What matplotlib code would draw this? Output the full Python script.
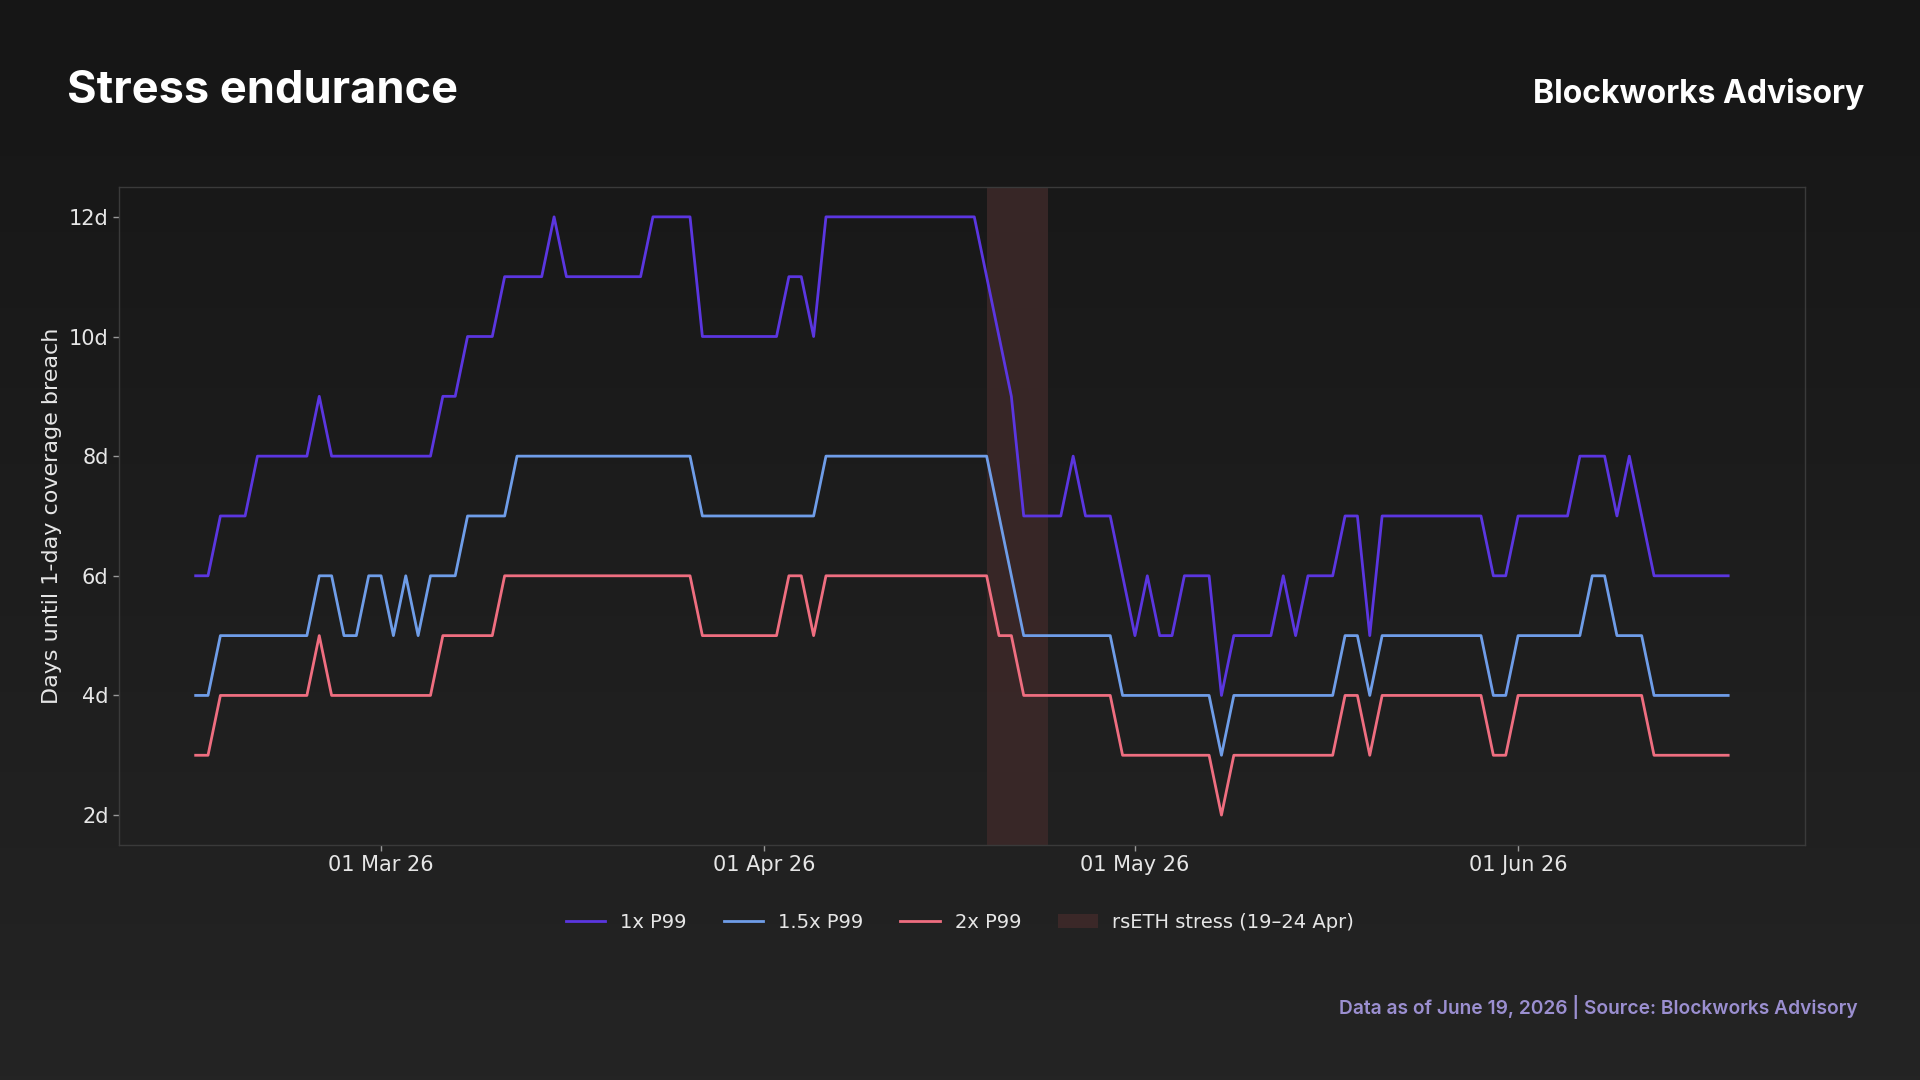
import matplotlib.pyplot as plt
import matplotlib.dates as mdates
import matplotlib.ticker as mticker
import numpy as np
import pandas as pd
from matplotlib.patches import Patch

# daily series, 14 Feb 2026 -> 18 Jun 2026
start_date = "2026-02-14"
p99_1x = [6, 6, 7, 7, 7, 8, 8, 8, 8, 8,
          9, 8, 8, 8, 8, 8, 8, 8, 8, 8,
          9, 9, 10, 10, 10, 11, 11, 11, 11, 12,
          11, 11, 11, 11, 11, 11, 11, 12, 12, 12,
          12, 10, 10, 10, 10, 10, 10, 10, 11, 11,
          10, 12, 12, 12, 12, 12, 12, 12, 12, 12,
          12, 12, 12, 12, 11, 10, 9, 7, 7, 7,
          7, 8, 7, 7, 7, 6, 5, 6, 5, 5,
          6, 6, 6, 4, 5, 5, 5, 5, 6, 5,
          6, 6, 6, 7, 7, 5, 7, 7, 7, 7,
          7, 7, 7, 7, 7, 6, 6, 7, 7, 7,
          7, 7, 8, 8, 8, 7, 8, 7, 6, 6,
          6, 6, 6, 6, 6]
p99_15x = [4, 4, 5, 5, 5, 5, 5, 5, 5, 5,
           6, 6, 5, 5, 6, 6, 5, 6, 5, 6,
           6, 6, 7, 7, 7, 7, 8, 8, 8, 8,
           8, 8, 8, 8, 8, 8, 8, 8, 8, 8,
           8, 7, 7, 7, 7, 7, 7, 7, 7, 7,
           7, 8, 8, 8, 8, 8, 8, 8, 8, 8,
           8, 8, 8, 8, 8, 7, 6, 5, 5, 5,
           5, 5, 5, 5, 5, 4, 4, 4, 4, 4,
           4, 4, 4, 3, 4, 4, 4, 4, 4, 4,
           4, 4, 4, 5, 5, 4, 5, 5, 5, 5,
           5, 5, 5, 5, 5, 4, 4, 5, 5, 5,
           5, 5, 5, 6, 6, 5, 5, 5, 4, 4,
           4, 4, 4, 4, 4]
p99_2x = [3, 3, 4, 4, 4, 4, 4, 4, 4, 4,
          5, 4, 4, 4, 4, 4, 4, 4, 4, 4,
          5, 5, 5, 5, 5, 6, 6, 6, 6, 6,
          6, 6, 6, 6, 6, 6, 6, 6, 6, 6,
          6, 5, 5, 5, 5, 5, 5, 5, 6, 6,
          5, 6, 6, 6, 6, 6, 6, 6, 6, 6,
          6, 6, 6, 6, 6, 5, 5, 4, 4, 4,
          4, 4, 4, 4, 4, 3, 3, 3, 3, 3,
          3, 3, 3, 2, 3, 3, 3, 3, 3, 3,
          3, 3, 3, 4, 4, 3, 4, 4, 4, 4,
          4, 4, 4, 4, 4, 3, 3, 4, 4, 4,
          4, 4, 4, 4, 4, 4, 4, 4, 3, 3,
          3, 3, 3, 3, 3]
stress_start = "2026-04-19"
stress_end = "2026-04-24"

dates = pd.date_range(start_date, periods=len(p99_1x), freq="D")

c_1x = "#5b36e0"
c_15x = "#6f9de8"
c_2x = "#ef6e80"
c_shade = "#3b2828"
txt = "#e6e6e6"

fig = plt.figure(figsize=(19.2, 10.8), dpi=100)

# background gradient
bg = fig.add_axes([0, 0, 1, 1])
grad = np.linspace(0, 1, 256).reshape(-1, 1)
bg.imshow(grad, aspect="auto", cmap=plt.matplotlib.colors.LinearSegmentedColormap.from_list("g", ["#161616", "#242424"]),
          extent=[0, 1, 0, 1], origin="upper")
bg.axis("off")

ax = fig.add_axes([0.062, 0.2176, 0.878, 0.6093])
ax.set_facecolor("none")

ax.axvspan(pd.Timestamp(stress_start), pd.Timestamp(stress_end), color=c_shade, alpha=0.9, lw=0, zorder=1)
ax.plot(dates, p99_1x, color=c_1x, lw=2, label="1x P99", zorder=3)
ax.plot(dates, p99_15x, color=c_15x, lw=2, label="1.5x P99", zorder=3)
ax.plot(dates, p99_2x, color=c_2x, lw=2, label="2x P99", zorder=3)

ax.set_ylim(1.5, 12.5)
ax.set_yticks([2, 4, 6, 8, 10, 12])
ax.yaxis.set_major_formatter(mticker.FuncFormatter(lambda v, p: f"{int(v)}d"))
ax.xaxis.set_major_locator(mdates.MonthLocator(bymonthday=1))
ax.xaxis.set_major_formatter(mdates.DateFormatter("%d %b %y"))

for s in ax.spines.values():
    s.set_color("#3a3a3a")
    s.set_linewidth(1)
ax.tick_params(colors="#9a9a9a", labelcolor=txt, labelsize=15, length=4, width=1)
ax.set_ylabel("Days until 1-day coverage breach", color=txt, fontsize=16)
ax.yaxis.set_label_coords(-0.034, 0.5)

handles = ax.get_legend_handles_labels()[0]
handles.append(Patch(facecolor=c_shade, edgecolor="none"))
labels = ["1x P99", "1.5x P99", "2x P99", "rsETH stress (19\u201324 Apr)"]
leg = fig.legend(handles, labels, loc="center", bbox_to_anchor=(0.5, 0.146), ncol=4, frameon=False,
                 fontsize=14, labelcolor=txt, handlelength=2.05, handletextpad=0.75, columnspacing=1.9)

fig.text(0.035, 0.905, "Stress endurance", color="white", fontsize=32.5, fontweight="bold",
         family="Inter", va="baseline", ha="left")
fig.text(0.971, 0.905, "Blockworks Advisory", color="white", fontsize=23, fontweight="bold",
         family="Inter", va="baseline", ha="right")
fig.text(0.9675, 0.061, "Data as of June 19, 2026 | Source: Blockworks Advisory", color="#9b8fd0",
         fontsize=13.8, fontweight="semibold", family="Inter", va="baseline", ha="right")

fig.savefig("out.png", dpi=100)
